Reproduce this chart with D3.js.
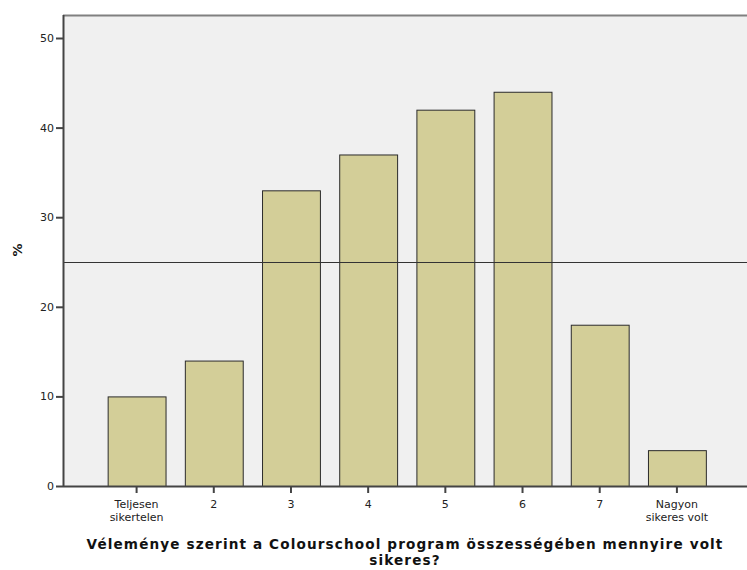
<!DOCTYPE html>
<html><head><meta charset="utf-8">
<script src="https://cdn.jsdelivr.net/npm/d3@7"></script>
<style>body{margin:0;background:#fff;}svg{display:block;font-family:"DejaVu Sans",sans-serif;}</style>
</head><body>
<svg id="c" width="747" height="570"></svg>
<script>
const categories = ["Teljesen\nsikertelen","2","3","4","5","6","7","Nagyon\nsikeres volt"];
const values = [10,14,33,37,42,44,18,4];
const yTicks = [0,10,20,30,40,50];
const refLine = 25;
const xTitle = ["Véleménye szerint a Colourschool program összességében mennyire volt","sikeres?"];
const yTitle = "%";

const svg = d3.select("#c");
const L = 63, R = 747, T = 15, B = 486;
const x = d3.scaleBand().domain(categories).range([98, 715.5]).paddingInner(0.25).paddingOuter(0.125);
const y = d3.scaleLinear().domain([0,50]).range([B, 38]);

svg.append("rect").attr("x",L).attr("y",T).attr("width",R-L).attr("height",B-T).attr("fill","#f0f0f0");
svg.append("line").attr("x1",L).attr("x2",R).attr("y1",T+0.5).attr("y2",T+0.5).attr("stroke","#808080").attr("stroke-width",2);

svg.selectAll("rect.bar").data(values).enter().append("rect").attr("class","bar")
  .attr("x",(d,i)=>x(categories[i])+0.5).attr("y",d=>y(d)+0.5)
  .attr("width",x.bandwidth()).attr("height",d=>B-y(d))
  .attr("fill","#d3ce98").attr("stroke","#2b2b2b").attr("stroke-width",1);

svg.append("line").attr("x1",L).attr("x2",R).attr("y1",y(refLine)+0.5).attr("y2",y(refLine)+0.5).attr("stroke","#333").attr("stroke-width",1);

// y axis
const ya = svg.append("g").attr("transform",`translate(${L},0)`)
  .call(d3.axisLeft(y).tickValues(yTicks).tickSize(7).tickPadding(2).tickSizeOuter(0));
ya.select(".domain").attr("stroke","#444").attr("stroke-width",2).attr("d",`M0.5,${T}V${B}`);
ya.selectAll(".tick line").attr("stroke","#444").attr("stroke-width",2);
ya.selectAll(".tick text").attr("font-size",11).attr("fill","#222").attr("font-family","DejaVu Sans, sans-serif");

// x axis
const xa = svg.append("g").attr("transform",`translate(0,${B})`)
  .call(d3.axisBottom(x).tickSize(7).tickSizeOuter(0).tickFormat(""));
xa.select(".domain").attr("stroke","#444").attr("stroke-width",2).attr("d",`M${L},0.5H${R}`);
xa.selectAll(".tick line").attr("stroke","#444").attr("stroke-width",2);
xa.selectAll(".tick").each(function(d){
  const lines = d.split("\n");
  const t = d3.select(this).append("text").attr("fill","#222").attr("font-size",11)
    .attr("font-family","DejaVu Sans, sans-serif").attr("text-anchor","middle");
  lines.forEach((s,i)=>t.append("tspan").attr("x",0).attr("y",22+i*13).text(s));
});

// titles
const xt = svg.append("text").attr("text-anchor","middle").attr("font-weight","bold").attr("font-size",13.6).attr("fill","#111");
xTitle.forEach((s,i)=>xt.append("tspan").attr("x",405).attr("y",549+i*16).text(s));
const first = xt.select("tspan");
const w = first.node().getComputedTextLength();
const n = xTitle[0].length;
xt.attr("letter-spacing", Math.max(0,(637-w)/n)+"px");
svg.append("text").attr("transform","translate(22,250) rotate(-90)").attr("text-anchor","middle")
  .attr("font-weight","bold").attr("font-size",13).attr("fill","#111").text(yTitle);
</script>
</body></html>
